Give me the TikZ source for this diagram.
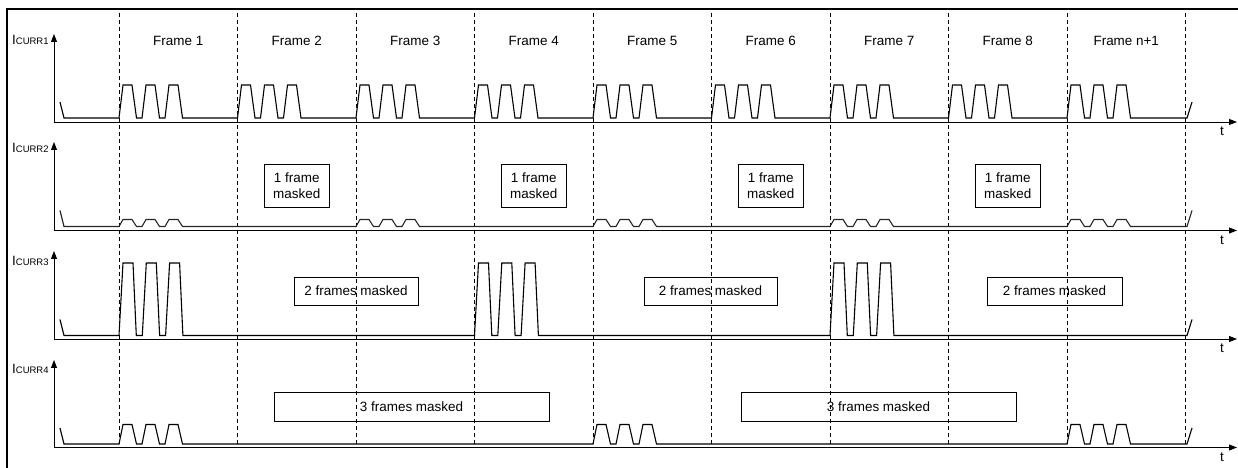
\documentclass[tikz,border=0pt]{standalone}
\usepackage{fontspec}
\setmainfont{Liberation Sans}
\usetikzlibrary{arrows.meta}
\newcommand\fs{\fontsize{13.5}{15.5}\selectfont}
\newcommand\curr[1]{{\fontsize{13.5}{14}\selectfont I}{\fontsize{9.5}{10}\selectfont CURR#1}}
\begin{document}
\begin{tikzpicture}[x=1bp,y=-1bp,
  sig/.style={line width=1.1bp, line join=miter},
  axis/.style={line width=0.9bp},
  arr/.style={-{Triangle[length=8bp,width=6bp]}},
  gridline/.style={line width=0.8bp, dash pattern=on 4bp off 3bp},
  mbox/.style={draw, line width=0.8bp, inner sep=0pt, align=center, font=\fs},
  lbl/.style={font=\fs, inner sep=0pt},
  border/.style={line width=2bp}]
\useasboundingbox (0,0) rectangle (1238,468);
% outer frame
\draw[border] (7,468) -- (7,9) -- (1238,9);
% frame separators
\foreach \i in {0,...,9}
  \draw[gridline] ({119+118.5*\i},13) -- ({119+118.5*\i},447);
% frame labels
\foreach \i/\t in {0/Frame 1,1/Frame 2,2/Frame 3,3/Frame 4,4/Frame 5,5/Frame 6,6/Frame 7,7/Frame 8,8/Frame n+1}
  \node[lbl] (fr\i) at ({178.25+118.5*\i},41) {\t};
% axes
\foreach \k/\ay/\tip/\ly in {1/122/34/45, 2/230.5/142/153, 3/339/251/266, 4/447.5/360/374}{
  \coordinate (o\k) at (54,\ay);
  \coordinate (ytip\k) at (54,\tip);
  \coordinate (xtip\k) at (1237,\ay);
  \draw[axis,arr] (o\k) -- (ytip\k);
  \draw[axis,arr] (o\k) -- (xtip\k);
  \node[lbl, anchor=base west] (cl\k) at (12,\ly) {\curr{\k}};
  \node[lbl] (t\k) at (1222,{\ay+9.5}) {t};
}
% signal 1
\def\B{118}\def\Hgt{33}\def\Rise{4}\def\Top{9}\def\Fall{4.5}\def\Low{5.5}
\draw[sig] (60,{\B-16}) -- (64,\B)
  \foreach \s in {119,237.5,356,474.5,593,711.5,830,948.5,1067} {
    -- (\s,\B) -- ++(\Rise,-\Hgt) -- ++(\Top,0) -- ++(\Fall,\Hgt) -- ++(\Low,0)
    -- ++(\Rise,-\Hgt) -- ++(\Top,0) -- ++(\Fall,\Hgt) -- ++(\Low,0)
    -- ++(\Rise,-\Hgt) -- ++(\Top,0) -- ++(\Fall,\Hgt) }
  -- (1187,\B) -- (1192,{\B-16});
% signal 2
\def\B{226.5}\def\Hgt{7}
\draw[sig, black!85] (60,{\B-16}) -- (64,\B)
  \foreach \s in {119,356,593,830,1067} {
    -- (\s,\B) -- ++(\Rise,-\Hgt) -- ++(\Top,0) -- ++(\Fall,\Hgt) -- ++(\Low,0)
    -- ++(\Rise,-\Hgt) -- ++(\Top,0) -- ++(\Fall,\Hgt) -- ++(\Low,0)
    -- ++(\Rise,-\Hgt) -- ++(\Top,0) -- ++(\Fall,\Hgt) }
  -- (1187,\B) -- (1192,{\B-16});
% signal 3
\def\B{335.5}\def\Hgt{72.5}\def\Rise{4}\def\Top{10}\def\Fall{3.3}\def\Low{6}
\draw[sig] (60,{\B-16}) -- (64,\B)
  \foreach \s in {119,474.5,830} {
    -- (\s,\B) -- ++(\Rise,-\Hgt) -- ++(\Top,0) -- ++(\Fall,\Hgt) -- ++(\Low,0)
    -- ++(\Rise,-\Hgt) -- ++(\Top,0) -- ++(\Fall,\Hgt) -- ++(\Low,0)
    -- ++(\Rise,-\Hgt) -- ++(\Top,0) -- ++(\Fall,\Hgt) }
  -- (1187,\B) -- (1192,{\B-16});
% signal 4
\def\B{444}\def\Hgt{19.5}\def\Rise{4}\def\Top{9}\def\Fall{4.5}\def\Low{5.5}
\draw[sig] (60,{\B-16}) -- (64,\B)
  \foreach \s in {119,593,1067} {
    -- (\s,\B) -- ++(\Rise,-\Hgt) -- ++(\Top,0) -- ++(\Fall,\Hgt) -- ++(\Low,0)
    -- ++(\Rise,-\Hgt) -- ++(\Top,0) -- ++(\Fall,\Hgt) -- ++(\Low,0)
    -- ++(\Rise,-\Hgt) -- ++(\Top,0) -- ++(\Fall,\Hgt) }
  -- (1187,\B) -- (1192,{\B-16});
% masked boxes, row 2
\foreach \c [count=\n] in {296.75,533.75,770.75,1007.75}
  \node[mbox, minimum width=65bp, minimum height=43bp] (m2\n) at (\c,185.5) {1 frame\\masked};
% row 3
\node[mbox, minimum width=124bp, minimum height=28bp] (m31) at (356,291) {2 frames masked};
\node[mbox, minimum width=133bp, minimum height=28bp] (m32) at (710.5,291) {2 frames masked};
\node[mbox, minimum width=135bp, minimum height=28bp] (m33) at (1054.5,291) {2 frames masked};
% row 4
\node[mbox, minimum width=275bp, minimum height=29bp] (m41) at (411.5,406.5) {3 frames masked};
\node[mbox, minimum width=275bp, minimum height=29bp] (m42) at (878.5,406.5) {3 frames masked};
\end{tikzpicture}
\end{document}
